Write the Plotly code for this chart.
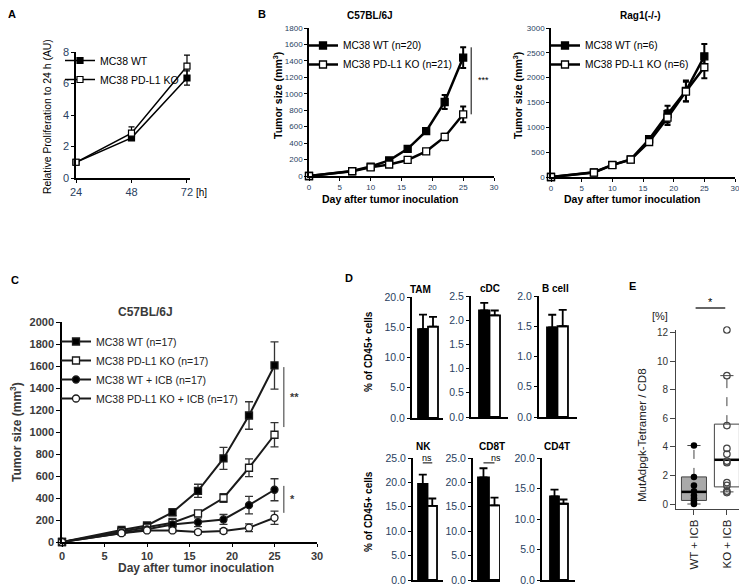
import plotly.graph_objects as go

# ---------------- data ----------------
# Panel A: in vitro proliferation
a_hours = [24, 48, 72]
a_wt = [1.0, 2.55, 6.35]
a_wt_err = [0.0, 0.15, 0.45]
a_ko = [1.0, 2.85, 7.1]
a_ko_err = [0.0, 0.4, 0.7]

# Panel B: tumour growth
b_days = [0, 7, 10, 13, 16, 19, 22, 25]
b_c57_wt = [0, 60, 115, 190, 330, 545, 900, 1440]
b_c57_wt_err = [0, 10, 15, 20, 25, 35, 85, 125]
b_c57_ko = [0, 58, 105, 140, 195, 300, 475, 750]
b_c57_ko_err = [0, 8, 12, 15, 20, 25, 40, 95]
b_rag_wt = [0, 95, 245, 355, 760, 1265, 1735, 2430]
b_rag_wt_err = [0, 15, 25, 30, 60, 170, 210, 250]
b_rag_ko = [0, 90, 240, 350, 705, 1195, 1720, 2210]
b_rag_ko_err = [0, 15, 25, 30, 55, 150, 200, 220]

# Panel C: tumour growth with ICB
c_days = [0, 7, 10, 13, 16, 19, 22, 25]
c_wt = [0, 110, 150, 270, 465, 760, 1150, 1605]
c_wt_err = [0, 15, 20, 30, 60, 100, 125, 215]
c_ko = [0, 95, 130, 175, 260, 400, 675, 975]
c_ko_err = [0, 12, 15, 40, 25, 40, 80, 110]
c_wt_icb = [0, 85, 115, 160, 180, 205, 335, 475]
c_wt_icb_err = [0, 10, 15, 25, 40, 45, 80, 100]
c_ko_icb = [0, 80, 105, 105, 90, 100, 130, 220]
c_ko_icb_err = [0, 10, 12, 15, 15, 20, 35, 60]

# Panel D: immune infiltrates (% of CD45+ cells)
d_cells = ["TAM", "cDC", "B cell", "NK", "CD8T", "CD4T"]
d_wt = [14.7, 2.2, 1.48, 19.7, 21.0, 13.7]
d_wt_err = [2.4, 0.16, 0.21, 1.9, 1.9, 1.1]
d_ko = [15.1, 2.1, 1.5, 15.2, 15.3, 12.5]
d_ko_err = [1.6, 0.1, 0.27, 1.5, 1.6, 0.7]
d_ymax = [20, 2.5, 2.0, 25, 25, 20]
d_dtick = [5, 0.5, 0.5, 5, 5, 5]
d_ns = [False, False, False, True, True, False]

# Panel E: MutAdpgk tetramer+ / CD8
e_groups = ["WT + ICB", "KO + ICB"]
e_wt_points = [4.1, 1.9, 1.3, 0.9, 0.6, 0.4, 0.25, 0.1, 0.0]
e_ko_points = [12.2, 9.0, 5.5, 3.9, 3.5, 3.0, 2.9, 1.5, 1.3, 0.9, 0.8]
e_q1 = [0.25, 1.2]
e_median = [0.85, 3.1]
e_q3 = [1.9, 5.6]
e_low = [0.0, 0.85]
e_high = [4.1, 9.0]

# ---------------- helpers ----------------
ARIAL = "Liberation Sans, Arial, sans-serif"

# the page body keeps its default 8px margin, so the figure starts 8px in
OFF = 8
W, H = 747 - OFF, 587 - OFF


def PX(x):
    return (x - OFF) / W


def PY(y):
    return 1 - (y - OFF) / H


fig = go.Figure()
layout = dict(width=W, height=H,
              margin=dict(l=0, r=0, t=0, b=0, pad=0, autoexpand=False),
              paper_bgcolor="white", plot_bgcolor="rgba(0,0,0,0)")
annotations = []
shapes = []


def add_axes(n, x0, x1, ytop, ybot, xrange, yrange, xkw=None, ykw=None):
    xname = "xaxis" if n == 1 else f"xaxis{n}"
    yname = "yaxis" if n == 1 else f"yaxis{n}"
    xid = "x" if n == 1 else f"x{n}"
    yid = "y" if n == 1 else f"y{n}"
    base = dict(showgrid=False, zeroline=False, showline=True, linecolor="black",
                linewidth=1.5, ticks="outside", ticklen=3, tickwidth=1.2,
                tickcolor="black", fixedrange=True, automargin=False)
    xa = dict(base, domain=[PX(x0), PX(x1)], range=xrange, anchor=yid)
    ya = dict(base, domain=[PY(ybot), PY(ytop)], range=yrange, anchor=xid)
    if xkw:
        xa.update(xkw)
    if ykw:
        ya.update(ykw)
    layout[xname] = xa
    layout[yname] = ya
    return xid, yid


def text(x, y, s, size, bold=False, color="black", angle=0,
         xanchor="center", yanchor="middle"):
    annotations.append(dict(x=PX(x), y=PY(y), xref="paper", yref="paper", text=s,
                            showarrow=False, textangle=angle, xanchor=xanchor,
                            yanchor=yanchor,
                            font=dict(size=size, family=ARIAL, color=color,
                                      weight="bold" if bold else "normal")))


def legend(x, y, size, color="black"):
    return dict(x=PX(x), y=PY(y), xanchor="left", yanchor="top",
                bgcolor="rgba(0,0,0,0)", font=dict(size=size, family=ARIAL, color=color),
                itemwidth=30, tracegroupgap=0)


# ---------------- Panel A ----------------
xa, ya = add_axes(1, 76, 190, 52, 178, [24, 73.3], [0, 8],
                  xkw=dict(tickvals=a_hours, tickfont=dict(size=11, family=ARIAL)),
                  ykw=dict(dtick=2, tickfont=dict(size=11, family=ARIAL)))
for name, ys, es, fill in [("MC38 WT", a_wt, a_wt_err, "black"),
                           ("MC38 PD-L1 KO", a_ko, a_ko_err, "white")]:
    fig.add_trace(go.Scatter(x=a_hours, y=ys, name=name, mode="lines+markers",
                             xaxis=xa, yaxis=ya, legend="legend", cliponaxis=False,
                             line=dict(color="black", width=1.5),
                             marker=dict(symbol="square", size=6, color=fill,
                                         line=dict(color="black", width=1.2)),
                             error_y=dict(type="data", array=es, color="black",
                                          thickness=1.2, width=3)))
layout["legend"] = legend(60, 46, 10.5)
text(12, 14, "A", 11, bold=True)
text(48, 117, "Relative Proliferation to 24 h (AU)", 10.4, angle=-90)
text(201, 193, "[h]", 10)

# ---------------- Panel B ----------------
bx = dict(dtick=5, tickfont=dict(size=8, family=ARIAL))
xb1, yb1 = add_axes(2, 309, 494, 28, 176, [0, 30], [0, 1800],
                    xkw=bx, ykw=dict(dtick=200, tickfont=dict(size=8, family=ARIAL)))
xb2, yb2 = add_axes(3, 551, 735, 28, 177, [0, 30], [0, 3000],
                    xkw=bx, ykw=dict(dtick=500, tickfont=dict(size=8, family=ARIAL)))
for (xid, yid, leg, wt, wte, ko, koe, nwt, nko) in [
        (xb1, yb1, "legend2", b_c57_wt, b_c57_wt_err, b_c57_ko, b_c57_ko_err, 20, 21),
        (xb2, yb2, "legend3", b_rag_wt, b_rag_wt_err, b_rag_ko, b_rag_ko_err, 6, 6)]:
    for name, ys, es, fill in [(f"MC38 WT (n={nwt})", wt, wte, "black"),
                               (f"MC38 PD-L1 KO (n={nko})", ko, koe, "white")]:
        fig.add_trace(go.Scatter(x=b_days, y=ys, name=name, mode="lines+markers",
                                 xaxis=xid, yaxis=yid, legend=leg, cliponaxis=False,
                                 line=dict(color="black", width=2.5),
                                 marker=dict(symbol="square", size=7, color=fill,
                                             line=dict(color="black", width=1.3)),
                                 error_y=dict(type="data", array=es, color="black",
                                              thickness=2, width=3)))
layout["legend2"] = legend(303, 31, 10.2)
layout["legend3"] = legend(545, 31, 10.2)
text(262, 14, "B", 11, bold=True)
text(370, 15, "C57BL/6J", 10, bold=True)
text(640, 15, "Rag1(-/-)", 10, bold=True)
for cx, ty in [(278, 96), (518, 96)]:
    text(cx, ty, "Tumor size (mm<sup>3</sup>)", 10.5, bold=True, angle=-90)
text(390, 199, "Day after tumor inoculation", 10.5, bold=True)
text(632, 199, "Day after tumor inoculation", 10.5, bold=True)
shapes.append(dict(type="line", xref=xb1, yref=yb1, x0=26.3, x1=26.3,
                   y0=b_c57_ko[-1], y1=b_c57_wt[-1] + b_c57_wt_err[-1],
                   line=dict(color="black", width=1)))
annotations.append(dict(x=27.0, y=1170, xref=xb1, yref=yb1, text="***", showarrow=False,
                        xanchor="left", font=dict(size=9, family=ARIAL, color="black")))

# ---------------- Panel C ----------------
CGRAY = "#3a3a3a"
cfont = dict(size=11, family=ARIAL, color=CGRAY, weight="bold")
xc, yc = add_axes(4, 62, 317, 322, 542, [0, 30], [0, 2000],
                  xkw=dict(dtick=5, tickfont=cfont, ticklen=3),
                  ykw=dict(dtick=200, tickfont=cfont, ticklen=4))
for name, ys, es, sym, fill in [
        ("MC38 WT (n=17)", c_wt, c_wt_err, "square", "black"),
        ("MC38 PD-L1 KO (n=17)", c_ko, c_ko_err, "square", "white"),
        ("MC38 WT + ICB (n=17)", c_wt_icb, c_wt_icb_err, "circle", "black"),
        ("MC38 PD-L1 KO + ICB (n=17)", c_ko_icb, c_ko_icb_err, "circle", "white")]:
    fig.add_trace(go.Scatter(x=c_days, y=ys, name=name, mode="lines+markers",
                             xaxis=xc, yaxis=yc, legend="legend4", cliponaxis=False,
                             line=dict(color="#1a1a1a", width=2),
                             marker=dict(symbol=sym, size=7, color=fill,
                                         line=dict(color="#1a1a1a", width=1.3)),
                             error_y=dict(type="data", array=es, color="#333333",
                                          thickness=1.3, width=4)))
layout["legend4"] = legend(56, 327, 10.5, "#222222")
text(15, 280, "C", 11, bold=True)
text(145, 312, "C57BL/6J", 12, bold=True, color=CGRAY)
text(196, 568, "Day after tumor inoculation", 12, bold=True, color=CGRAY)
text(16, 432, "Tumor size (mm<sup>3</sup>)", 12, bold=True, color=CGRAY, angle=-90)
for (y0, y1, lab) in [(1045, 1590, "**"), (265, 510, "*")]:
    shapes.append(dict(type="line", xref=xc, yref=yc, x0=26.1, x1=26.1, y0=y0, y1=y1,
                       line=dict(color="#333333", width=1)))
    annotations.append(dict(x=26.6, y=(y0 + y1) / 2, xref=xc, yref=yc, text=lab,
                            showarrow=False, xanchor="left",
                            font=dict(size=11, family=ARIAL, color=CGRAY, weight="bold")))

# ---------------- Panel D ----------------
d_boxes = [  # x0, x1, ytop, ybot, xrange, title x, title y
    (412, 443, 297, 418, [-1.1, 2.0], 420, 289),
    (471, 508, 296, 417, [-1.26, 2.26], 490, 288),
    (539, 577, 296, 417, [-1.26, 2.36], 555, 288),
    (413, 443, 458, 580, [-1.03, 2.13], 423, 446),
    (473, 500, 458, 580, [-0.95, 1.5], 492, 446),
    (542, 575, 458, 580, [-1.39, 2.28], 557, 446),
]
for i, (x0, x1, yt, yb, xr, tx, ty) in enumerate(d_boxes):
    n = 5 + i
    xid, yid = add_axes(n, x0, x1, yt, yb, xr, [0, d_ymax[i]],
                        xkw=dict(showticklabels=False, ticks="", linewidth=2),
                        ykw=dict(dtick=d_dtick[i], tickformat=".1f", linewidth=2,
                                 tickfont=dict(size=10.5, family=ARIAL), ticklen=3))
    for xpos, val, err, fill in [(0, d_wt[i], d_wt_err[i], "black"),
                                 (1, d_ko[i], d_ko_err[i], "white")]:
        fig.add_trace(go.Bar(x=[xpos], y=[val], width=[1], xaxis=xid, yaxis=yid,
                             showlegend=False, cliponaxis=False,
                             marker=dict(color=fill, line=dict(color="black", width=1.8)),
                             error_y=dict(type="data", symmetric=False, array=[err],
                                          arrayminus=[0], color="black", thickness=1.8,
                                          width=4)))
    text(tx, ty, d_cells[i], 10, bold=True)
    if d_ns[i]:
        shapes.append(dict(type="line", xref=xid, yref=yid, x0=0, x1=1, y0=24, y1=24,
                           line=dict(color="black", width=1)))
        text(tx + 4, 458, "ns", 9)
text(349, 278, "D", 11, bold=True)
text(368, 352, "% of CD45+ cells", 10, bold=True, angle=-90)
text(368, 512, "% of CD45+ cells", 10, bold=True, angle=-90)

# ---------------- Panel E ----------------
EG = "#444444"
xe, ye = add_axes(11, 676, 747, 330, 509, [0.455, 2.61], [-0.35, 12.2],
                  xkw=dict(tickvals=[1, 2], ticktext=e_groups, tickangle=-90,
                           linecolor=EG, linewidth=1, tickcolor=EG, ticklen=5,
                           tickfont=dict(size=11.5, family=ARIAL, color="#222")),
                  ykw=dict(tickvals=[0, 2, 4, 6, 8, 10, 12], linecolor=EG, linewidth=1,
                           tickcolor=EG, ticklen=5,
                           tickfont=dict(size=10, family=ARIAL, color="#333")))
box_fill = ["#a9a9a9", "white"]
hw = 0.38
cap = 0.2
for gi in range(2):
    xcen = gi + 1
    shapes.append(dict(type="line", xref=xe, yref=ye, x0=xcen, x1=xcen,
                       y0=e_q3[gi], y1=e_high[gi], layer="below",
                       line=dict(color=EG, width=1, dash="dash")))
    shapes.append(dict(type="line", xref=xe, yref=ye, x0=xcen, x1=xcen,
                       y0=e_low[gi], y1=e_q1[gi], layer="below",
                       line=dict(color=EG, width=1, dash="dash")))
    for yy in (e_low[gi], e_high[gi]):
        shapes.append(dict(type="line", xref=xe, yref=ye, x0=xcen - cap, x1=xcen + cap,
                           y0=yy, y1=yy, layer="below", line=dict(color=EG, width=1)))
    shapes.append(dict(type="rect", xref=xe, yref=ye, x0=xcen - hw, x1=xcen + hw,
                       y0=e_q1[gi], y1=e_q3[gi], layer="below", fillcolor=box_fill[gi],
                       line=dict(color=EG, width=1)))
    shapes.append(dict(type="line", xref=xe, yref=ye, x0=xcen - hw, x1=xcen + hw,
                       y0=e_median[gi], y1=e_median[gi], layer="below",
                       line=dict(color="black", width=2.5)))
fig.add_trace(go.Scatter(x=[1] * len(e_wt_points), y=e_wt_points, mode="markers",
                         xaxis=xe, yaxis=ye, showlegend=False, cliponaxis=False,
                         marker=dict(symbol="circle", size=6.5, color="black")))
fig.add_trace(go.Scatter(x=[2] * len(e_ko_points), y=e_ko_points, mode="markers",
                         xaxis=xe, yaxis=ye, showlegend=False, cliponaxis=False,
                         marker=dict(symbol="circle-open", size=6.5,
                                     color="#444", line=dict(width=1.2))))
shapes.append(dict(type="line", xref=xe, yref="paper", x0=1.05, x1=1.95,
                   y0=PY(308), y1=PY(308), line=dict(color="black", width=1.2)))
text(710, 302, "*", 11, color="black")
text(632, 286, "E", 11, bold=True)
text(660, 316, "[%]", 11, color="#222")
text(642, 435, "MutAdpgk-Tetramer / CD8", 11.5, color="#222", angle=-90)

layout["annotations"] = annotations
layout["shapes"] = shapes
layout["barmode"] = "overlay"
fig.update_layout(**layout)
fig.write_html("out.html")
